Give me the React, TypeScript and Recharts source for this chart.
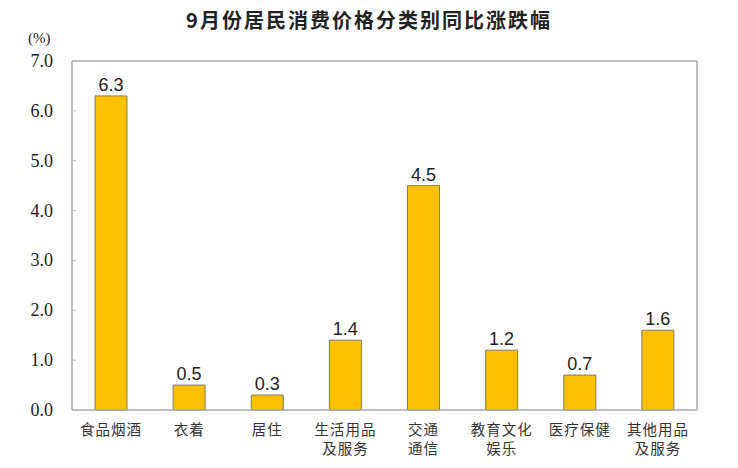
import React from "react";
import { BarChart, Bar, XAxis, YAxis, LabelList, CartesianGrid } from "recharts";

const categories = ["食品烟酒", "衣着", "居住", "生活用品\n及服务", "交通\n通信", "教育文化\n娱乐", "医疗保健", "其他用品\n及服务"];
const values = [6.3, 0.5, 0.3, 1.4, 4.5, 1.2, 0.7, 1.6];
const yTicks = [0, 1, 2, 3, 4, 5, 6, 7];
const title = "9月份居民消费价格分类别同比涨跌幅";
const unitLabel = "(%)";

const data = categories.map((c, i) => ({ name: c, value: values[i] }));

const CJK = '"Noto Sans CJK SC", "Noto Sans", sans-serif';

const CategoryTick = (props: any) => {
  const { x, y, payload } = props;
  const lines = String(payload.value).split("\n");
  return (
    <g transform={`translate(${x},${y})`}>
      {lines.map((l: string, i: number) => (
        <text
          key={i}
          x={0}
          y={0}
          dy={17 + i * 19}
          textAnchor="middle"
          fontFamily={CJK}
          fontSize={14.5}
          fill="#333"
          letterSpacing={1}
        >
          {l}
        </text>
      ))}
    </g>
  );
};

const YTick = (props: any) => {
  const { y, payload } = props;
  return (
    <g>
      <line x1={72} x2={76} y1={y} y2={y} stroke="#bbb" />
      <text x={53} y={y} dy={6} textAnchor="end" fontFamily='"Liberation Serif", "Times New Roman", serif' fontSize={18} fill="#222">
        {Number(payload.value).toFixed(1)}
      </text>
    </g>
  );
};

export default function App() {
  return (
    <div style={{ position: "absolute", left: 0, top: 0, width: 738, height: 468, background: "#fff" }}>
      <div
        style={{
          position: "absolute",
          left: 0,
          top: 7,
          width: 738,
          textAlign: "center",
          fontFamily: CJK,
          fontWeight: "bold",
          fontSize: 20,
          letterSpacing: 2,
          color: "#222",
          lineHeight: "26px",
        }}
      >
        {title}
      </div>
      <div
        style={{
          position: "absolute",
          left: 28,
          top: 30,
          fontFamily: '"Liberation Serif", serif',
          fontSize: 15,
          color: "#222",
        }}
      >
        {unitLabel}
      </div>
      <BarChart
        width={738}
        height={468}
        data={data}
        margin={{ top: 61, right: 41, bottom: 0, left: 0 }}
        barCategoryGap={0}
      >
        <CartesianGrid
          stroke="#aaa"
          strokeWidth={1.5}
          horizontalCoordinatesGenerator={({ offset }: any) => [offset.top]}
          verticalCoordinatesGenerator={({ offset }: any) => [offset.left + offset.width]}
        />
        <XAxis
          dataKey="name"
          interval={0}
          height={58}
          tickLine={false}
          axisLine={{ stroke: "#aaa", strokeWidth: 1.5 }}
          tick={<CategoryTick />}
        />
        <YAxis
          width={72}
          domain={[0, 7]}
          ticks={yTicks}
          interval={0}
          tickLine={false}
          axisLine={{ stroke: "#aaa", strokeWidth: 1.5 }}
          tick={<YTick />}
        />
        <Bar dataKey="value" fill="#FFC000" stroke="#7a7a7a" strokeWidth={1} barSize={32} isAnimationActive={false}>
          <LabelList
            dataKey="value"
            position="top"
            offset={5}
            formatter={(v: any) => Number(v).toFixed(1)}
            style={{ fontFamily: '"Liberation Sans", Arial, sans-serif', fontSize: 18, fill: "#222" }}
          />
        </Bar>
      </BarChart>
    </div>
  );
}
